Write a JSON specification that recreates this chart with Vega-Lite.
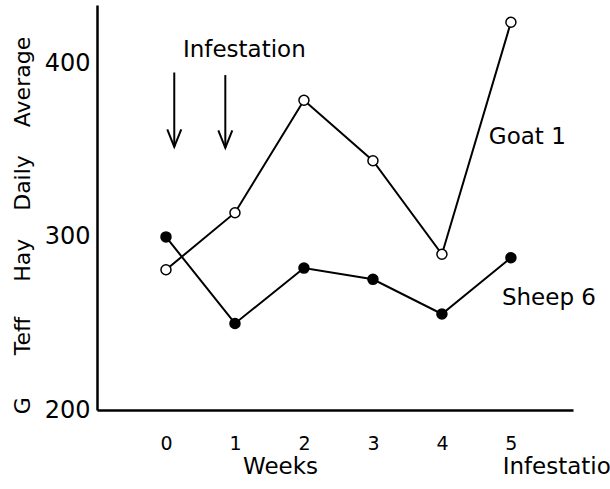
{
  "$schema": "https://vega.github.io/schema/vega-lite/v6.json",
  "width": 476,
  "height": 405,
  "autosize": {"type": "none"},
  "padding": {"left": 97, "top": 5, "right": 37, "bottom": 79},
  "background": "white",
  "config": {"view": {"stroke": null}, "font": "DejaVu Sans"},
  "datasets": {
    "series": [
      {"week": 0, "value": 281, "animal": "Goat 1"},
      {"week": 1, "value": 314, "animal": "Goat 1"},
      {"week": 2, "value": 379, "animal": "Goat 1"},
      {"week": 3, "value": 344, "animal": "Goat 1"},
      {"week": 4, "value": 290, "animal": "Goat 1"},
      {"week": 5, "value": 424, "animal": "Goat 1"},
      {"week": 0, "value": 300, "animal": "Sheep 6"},
      {"week": 1, "value": 250, "animal": "Sheep 6"},
      {"week": 2, "value": 282, "animal": "Sheep 6"},
      {"week": 3, "value": 275.5, "animal": "Sheep 6"},
      {"week": 4, "value": 255.5, "animal": "Sheep 6"},
      {"week": 5, "value": 288, "animal": "Sheep 6"}
    ],
    "arrows": [
      {"week": 0.12, "value": 395, "value2": 352},
      {"week": 0.86, "value": 393.5, "value2": 351.5}
    ],
    "labels": [
      {"week": 0.246, "value": 408, "label": "Infestation"},
      {"week": 4.68, "value": 357.7, "label": "Goat 1"},
      {"week": 4.87, "value": 264.7, "label": "Sheep 6"},
      {"week": 4.88, "value": 167, "label": "Infestation"}
    ]
  },
  "layer": [
    {
      "data": {"name": "series"},
      "mark": {"type": "line", "color": "black", "strokeWidth": 2},
      "encoding": {
        "x": {
          "field": "week", "type": "quantitative",
          "scale": {"domain": [-1, 5.9], "nice": false, "zero": false},
          "axis": {
            "values": [0, 1, 2, 3, 4, 5], "format": "d", "ticks": false, "grid": false,
            "domainColor": "black", "domainWidth": 2.5,
            "labelFontSize": 19, "labelColor": "black", "labelPadding": 24,
            "title": "Weeks", "titleFontSize": 23, "titleFontWeight": "normal", "titleColor": "black",
            "titleX": 183, "titleY": 56, "titleAlign": "center", "titleBaseline": "middle"
          }
        },
        "y": {
          "field": "value", "type": "quantitative",
          "scale": {"domain": [200, 434], "nice": false, "zero": false},
          "axis": {
            "values": [200, 300, 400], "ticks": false, "grid": false,
            "domainColor": "black", "domainWidth": 2.5,
            "labelFontSize": 24, "labelColor": "black", "labelPadding": 7,
            "title": "G\u00a0\u00a0\u00a0\u00a0\u00a0\u00a0Teff\u00a0\u00a0\u00a0\u00a0\u00a0Hay\u00a0\u00a0\u00a0\u00a0Daily\u00a0\u00a0\u00a0\u00a0Average",
            "titleFontSize": 22, "titleFontWeight": "normal", "titleColor": "black",
            "titleAngle": 270, "titleX": -75, "titleY": 220, "titleAlign": "center", "titleBaseline": "middle"
          }
        },
        "detail": {"field": "animal"}
      }
    },
    {
      "data": {"name": "series"},
      "mark": {"type": "point", "filled": true, "size": 100, "stroke": "black", "strokeWidth": 1.5, "opacity": 1},
      "encoding": {
        "x": {"field": "week", "type": "quantitative"},
        "y": {"field": "value", "type": "quantitative"},
        "fill": {
          "field": "animal", "type": "nominal",
          "scale": {"domain": ["Goat 1", "Sheep 6"], "range": ["white", "black"]},
          "legend": null
        }
      }
    },
    {
      "data": {"name": "arrows"},
      "mark": {"type": "rule", "color": "black", "strokeWidth": 2},
      "encoding": {
        "x": {"field": "week", "type": "quantitative"},
        "y": {"field": "value", "type": "quantitative"},
        "y2": {"field": "value2"}
      }
    },
    {
      "data": {"name": "arrows"},
      "mark": {"type": "point", "shape": "M-1,-2.5L0,0L1,-2.5", "size": 196, "filled": false, "stroke": "black", "strokeWidth": 2, "opacity": 1},
      "encoding": {
        "x": {"field": "week", "type": "quantitative"},
        "y": {"field": "value2", "type": "quantitative"}
      }
    },
    {
      "data": {"name": "labels"},
      "mark": {"type": "text", "align": "left", "baseline": "middle", "fontSize": 23, "color": "black"},
      "encoding": {
        "x": {"field": "week", "type": "quantitative"},
        "y": {"field": "value", "type": "quantitative"},
        "text": {"field": "label"}
      }
    }
  ]
}
